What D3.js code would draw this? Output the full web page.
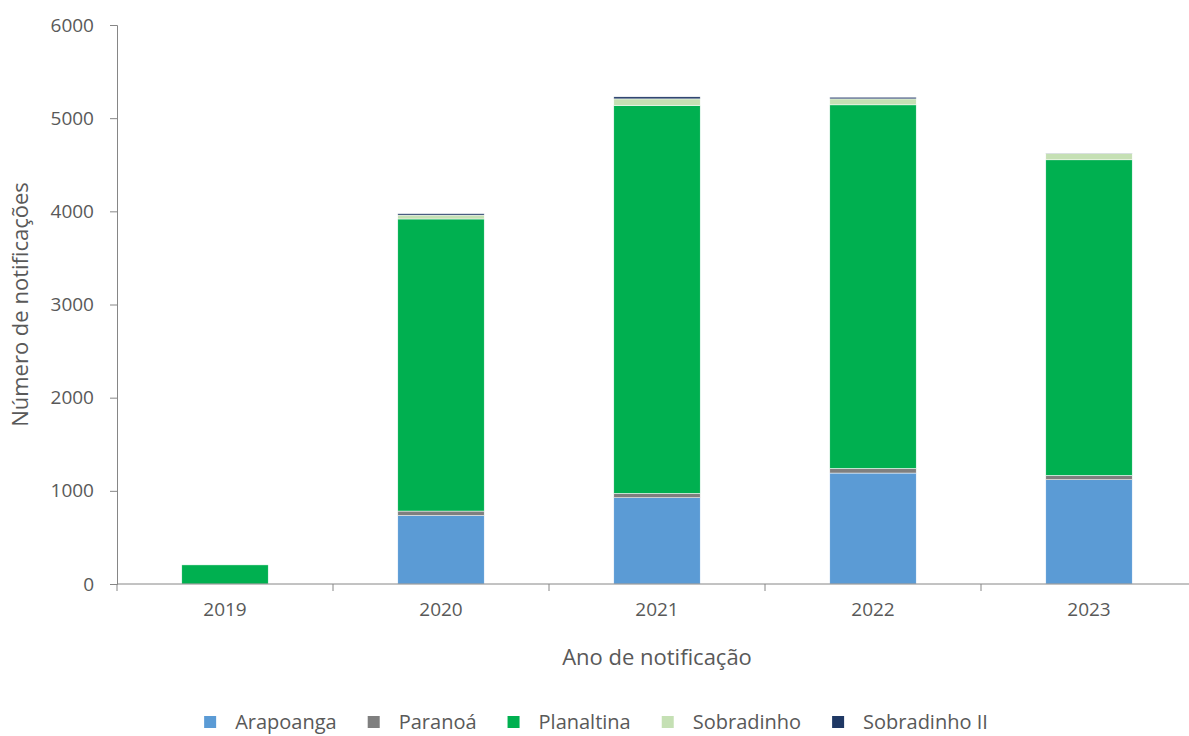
<!DOCTYPE html>
<html>
<head>
<meta charset="utf-8">
<script src="https://cdn.jsdelivr.net/npm/d3@7"></script>
<style>
  body { margin: 0; background: #fff; }
  text { font-family: "Open Sans", Lato, sans-serif; fill: #595959; }
</style>
</head>
<body>
<svg id="chart"></svg>
<script>
// chart size
var w = 1189, h = 736;
var plotLeft = 117, plotRight = 1197, plotTop = 25, plotBottom = 584;

var years = ["2019", "2020", "2021", "2022", "2023"];
var regions = ["Arapoanga", "Paranoá", "Planaltina", "Sobradinho", "Sobradinho II"];
var colors = ["#5B9BD5", "#7F7F7F", "#00B050", "#C5E0B4", "#1F3864"];

// values per region, one per year
var arapoanga   = [0, 735, 926, 1191, 1119];
var paranoa     = [0, 48, 47, 50, 47];
var planaltina  = [205, 3135, 4163, 3902, 3387];
var sobradinho  = [0, 42, 71, 64, 70];
var sobradinho2 = [0, 15, 22, 18, 3];

var yTicks = [0, 1000, 2000, 3000, 4000, 5000, 6000];

var series = [arapoanga, paranoa, planaltina, sobradinho, sobradinho2];
var rows = years.map(function(y, i) {
  var r = { year: y };
  regions.forEach(function(k, j) { r[k] = series[j][i]; });
  return r;
});

var svg = d3.select("#chart").attr("width", w).attr("height", h);

var x = d3.scaleBand().domain(years).range([plotLeft, plotRight]).paddingInner(0.6).paddingOuter(0.3);
var y = d3.scaleLinear().domain([0, 6000]).range([plotBottom, plotTop]);

var stacked = d3.stack().keys(regions)(rows);

svg.append("g").selectAll("g")
  .data(stacked)
  .join("g")
    .attr("fill", function(d, i) { return colors[i]; })
  .selectAll("rect")
  .data(function(d) { return d; })
  .join("rect")
    .attr("x", function(d) { return x(d.data.year); })
    .attr("width", x.bandwidth())
    .attr("y", function(d) { return y(d[1]); })
    .attr("height", function(d) { return y(d[0]) - y(d[1]); })
    .attr("stroke", "#fff")
    .attr("stroke-width", 0.5);

// y axis
var yAxis = svg.append("g")
  .attr("transform", "translate(" + plotLeft + ",0)")
  .call(d3.axisLeft(y).tickValues(yTicks).tickSize(7).tickPadding(16).tickFormat(d3.format("d")));
yAxis.selectAll("text").style("font-size", "19px").attr("fill", "#595959");
yAxis.selectAll("path, line").attr("stroke", "#868686");

// x axis, ticks between the categories
var xAxis = svg.append("g").attr("transform", "translate(0," + plotBottom + ")");
xAxis.append("line").attr("x1", plotLeft).attr("x2", plotRight).attr("stroke", "#868686");
d3.range(years.length + 1).forEach(function(i) {
  var tx = plotLeft + i * x.step();
  xAxis.append("line").attr("x1", tx).attr("x2", tx).attr("y1", 0).attr("y2", 7).attr("stroke", "#868686");
});
xAxis.selectAll(".lab").data(years).join("text")
  .attr("class", "lab")
  .attr("x", function(d) { return x(d) + x.bandwidth() / 2; })
  .attr("y", 32)
  .attr("text-anchor", "middle")
  .style("font-size", "19px")
  .text(function(d) { return d; });

// axis titles
svg.append("text")
  .attr("x", 657).attr("y", 665)
  .attr("text-anchor", "middle")
  .style("font-size", "22px")
  .text("Ano de notificação");
svg.append("text")
  .attr("transform", "translate(28," + ((plotTop + plotBottom) / 2) + ") rotate(-90)")
  .attr("text-anchor", "middle")
  .style("font-size", "22px")
  .text("Número de notificações");

// legend
var legend = svg.append("g");
var lx = 0;
regions.forEach(function(k, i) {
  var g = legend.append("g").attr("transform", "translate(" + lx + ",0)");
  g.append("rect").attr("x", 0).attr("y", -7).attr("width", 12).attr("height", 12).attr("fill", colors[i]);
  var t = g.append("text").attr("x", 31).attr("y", 6).style("font-size", "20px").text(k);
  lx += 31 + t.node().getComputedTextLength() + 31;
});
lx -= 31;
legend.attr("transform", "translate(" + (596 - lx / 2) + ",723)");
</script>
</body>
</html>
